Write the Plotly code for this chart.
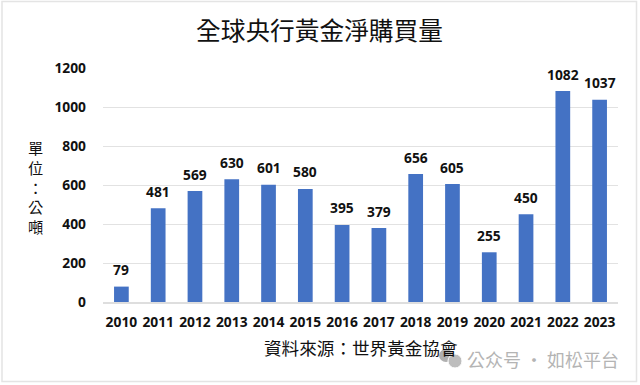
import plotly.graph_objects as go

years = list(range(2010, 2024))
values = [79, 481, 569, 630, 601, 580, 395, 379, 656, 605, 255, 450, 1082, 1037]
y_ticks = [0, 200, 400, 600, 800, 1000, 1200]
title_text = "全球央行黃金淨購買量"
y_title_text = "<br>".join("單位：公噸")
source_text = "資料來源：世界黃金協會"
watermark_text = "公众号 · 如松平台"

W, H = 640, 385
L, R, T, B = 103, 22, 68, 83
CJK = "Noto Sans CJK TC"
LATIN = "Open Sans"
INK = "#111111"


def px(x):
    return (x - L) / (W - L - R)


def py(y):
    return 1 - (y - T) / (H - T - B)


def note(text, x, y, size, color=INK, family=CJK):
    return dict(text=text, xref="paper", yref="paper", x=px(x), y=py(y),
                xanchor="center", yanchor="middle", showarrow=False,
                font=dict(family=family, size=size, color=color))


annotations = [note(title_text, 319.5, 29, 24.7),
               note(source_text, 360.5, 347.5, 17.6),
               note(watermark_text, 542.5, 359, 18, "#b4b4b4"),
               note(y_title_text, 35, 186, 15.2)]
for yr, v in zip(years, values):
    annotations.append(dict(text=f"<b>{v}</b>", x=yr, y=v, xref="x", yref="y",
                            yshift=17, yanchor="middle", xanchor="center",
                            showarrow=False,
                            font=dict(family=LATIN, size=13.8, color=INK)))

shapes = [
    dict(type="rect", xref="paper", yref="paper", x0=px(2), x1=px(636.5),
         y0=py(1.5), y1=py(381.5), line=dict(color="#e4e4e4", width=1.5),
         fillcolor="rgba(0,0,0,0)", layer="below"),
    dict(type="circle", xref="paper", yref="paper", x0=px(439), x1=px(453),
         y0=py(349), y1=py(362), fillcolor="#b0b0b0", line_width=0),
    dict(type="circle", xref="paper", yref="paper", x0=px(448), x1=px(462),
         y0=py(354), y1=py(368), fillcolor="#bdbdbd", line=dict(color="white", width=1)),
]

fig = go.Figure(go.Bar(x=years, y=values, marker=dict(color="#4472C4", line_width=0),
                       width=0.4, hoverinfo="skip"))
fig.update_layout(
    width=W, height=H, autosize=False,
    margin=dict(l=L, r=R, t=T, b=B, pad=0),
    paper_bgcolor="white", plot_bgcolor="white",
    showlegend=False, annotations=annotations, shapes=shapes,
    font=dict(family=LATIN, color=INK),
)
fig.update_xaxes(range=[2009.5, 2023.5], showgrid=False, ticks="", showline=True,
                 linecolor="#dedede", linewidth=1.5, zeroline=False,
                 tickvals=years, ticktext=[f"<b>{y}</b>" for y in years],
                 tickfont=dict(family=LATIN, size=13.8, color=INK), ticklabelstandoff=7)
fig.update_yaxes(range=[0, 1200], tickvals=y_ticks,
                 ticktext=[f"<b>{t}</b>" for t in y_ticks],
                 gridcolor="#e2e2e2", gridwidth=1.3, zeroline=False, showline=False,
                 ticks="", tickfont=dict(family=LATIN, size=13.8, color=INK),
                 ticklabelstandoff=16)
fig.write_html("out.html", config={"displayModeBar": False},
               post_script="document.body.style.margin='0';")
